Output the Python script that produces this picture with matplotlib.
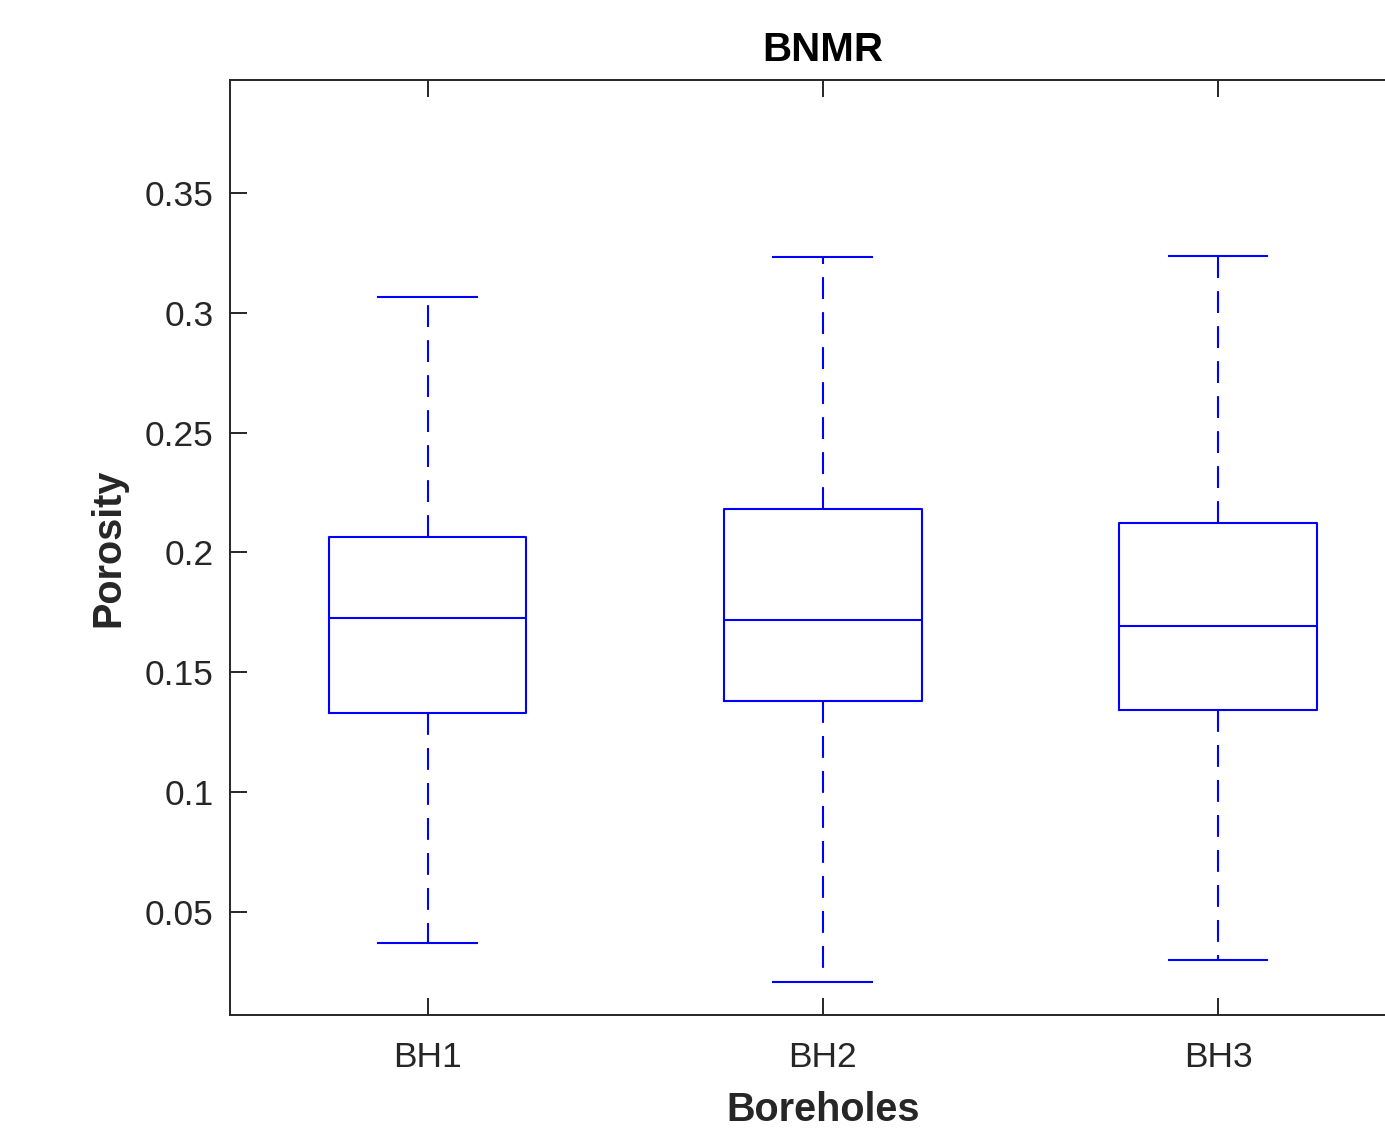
import numpy as np
import matplotlib
matplotlib.use("Agg")
import matplotlib.pyplot as plt

plt.rcParams['font.family'] = ['Liberation Sans', 'DejaVu Sans']

# box statistics
boreholes = ['BH1', 'BH2', 'BH3']
whislo = [0.0371, 0.0208, 0.0300]
q1 = [0.1331, 0.1380, 0.1343]
med = [0.1727, 0.1718, 0.1693]
q3 = [0.2064, 0.2181, 0.2123]
whishi = [0.3066, 0.3233, 0.3237]

stats = []
for i, name in enumerate(boreholes):
    stats.append({'label': name, 'whislo': whislo[i], 'q1': q1[i], 'med': med[i],
                  'q3': q3[i], 'whishi': whishi[i], 'fliers': []})

grey = '#262626'
blue = '#0000ff'
lw = 1.5

fig = plt.figure(figsize=(13.85, 11.28), dpi=100, facecolor='w')
ax = fig.add_axes([0.1661, 0.1002, 0.856, 0.8289])

ax.bxp(stats, positions=[1, 2, 3], widths=0.5, showfliers=False,
       boxprops=dict(color=blue, linewidth=lw),
       medianprops=dict(color=blue, linewidth=lw),
       whiskerprops=dict(color=blue, linewidth=lw, linestyle=(0, (10.5, 6.3))),
       capprops=dict(color=blue, linewidth=lw),
       capwidths=0.25)

ax.set_xlim(0.5, 3.5)
ax.set_ylim(0.007, 0.3971)
ax.set_yticks([0.05, 0.1, 0.15, 0.2, 0.25, 0.3, 0.35])
ax.set_yticklabels(['0.05', '0.1', '0.15', '0.2', '0.25', '0.3', '0.35'])
ax.set_xticks([1, 2, 3])
ax.set_xticklabels(boreholes)

ax.tick_params(axis='both', direction='in', length=12, width=1.4, color=grey,
               labelcolor=grey, labelsize=25.5, pad=12)
ax.tick_params(axis='x', top=True, pad=19)
for s in ax.spines.values():
    s.set_color(grey)
    s.set_linewidth(1.4)

ax.set_title('BNMR', fontsize=29, fontweight='bold', color='black', pad=14)
ax.set_xlabel('Boreholes', fontsize=28.5, fontweight='bold', color=grey, labelpad=12)
ax.set_ylabel('Porosity', fontsize=28.5, fontweight='bold', color=grey, labelpad=12)

fig.savefig('out.png', dpi=100)
